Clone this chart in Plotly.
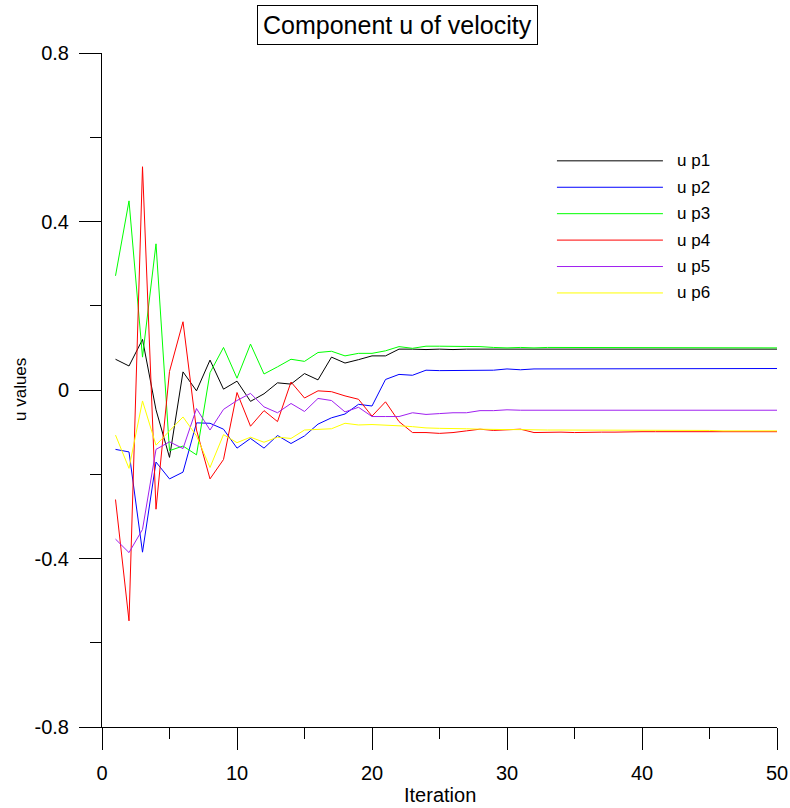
import plotly.graph_objects as go

iterations = list(range(1, 51))
series_names = ["u p1", "u p2", "u p3", "u p4", "u p5", "u p6"]
series_colors = ["#000000", "#0000ff", "#00ff00", "#ff0000", "#a020f0", "#ffff00"]

u_p1 = [0.073, 0.057, 0.120, -0.047, -0.160, 0.043, -0.002, 0.071, 0.002, 0.021,
        -0.027, -0.009, 0.017, 0.014, 0.039, 0.024, 0.078, 0.064, 0.072, 0.081,
        0.081, 0.097, 0.097, 0.096, 0.097, 0.096, 0.097, 0.097, 0.096, 0.097,
        0.097, 0.097, 0.097, 0.096, 0.097, 0.097, 0.097, 0.097, 0.097, 0.097,
        0.097, 0.097, 0.097, 0.097, 0.097, 0.097, 0.097, 0.097, 0.097, 0.097]
u_p2 = [-0.141, -0.147, -0.385, -0.171, -0.211, -0.195, -0.078, -0.079, -0.093, -0.138,
        -0.115, -0.138, -0.108, -0.127, -0.109, -0.081, -0.066, -0.057, -0.034, -0.038,
        0.025, 0.037, 0.035, 0.047, 0.046, 0.046, 0.046, 0.046, 0.047, 0.050,
        0.048, 0.050, 0.050, 0.050, 0.050, 0.050, 0.051, 0.051, 0.051, 0.051,
        0.051, 0.051, 0.051, 0.051, 0.051, 0.051, 0.051, 0.051, 0.051, 0.051]
u_p3 = [0.271, 0.449, 0.078, 0.347, -0.144, -0.133, -0.154, 0.041, 0.101, 0.028,
        0.109, 0.038, 0.055, 0.073, 0.068, 0.089, 0.092, 0.081, 0.087, 0.087,
        0.093, 0.103, 0.099, 0.104, 0.104, 0.104, 0.104, 0.103, 0.101, 0.100,
        0.101, 0.100, 0.101, 0.101, 0.100, 0.100, 0.100, 0.100, 0.100, 0.100,
        0.100, 0.100, 0.100, 0.100, 0.100, 0.100, 0.100, 0.100, 0.100, 0.100]
u_p4 = [-0.260, -0.548, 0.530, -0.283, 0.044, 0.162, -0.095, -0.211, -0.165, -0.006,
        -0.086, -0.049, -0.075, 0.019, -0.019, -0.002, -0.004, -0.014, -0.022, -0.062,
        -0.028, -0.075, -0.101, -0.101, -0.103, -0.101, -0.097, -0.093, -0.096, -0.094,
        -0.093, -0.101, -0.100, -0.100, -0.101, -0.100, -0.100, -0.100, -0.099, -0.099,
        -0.099, -0.099, -0.099, -0.099, -0.099, -0.099, -0.099, -0.099, -0.099, -0.099]
u_p5 = [-0.354, -0.386, -0.331, -0.141, -0.123, -0.139, -0.044, -0.095, -0.046, -0.025,
        -0.008, -0.040, -0.054, -0.032, -0.051, -0.020, -0.025, -0.052, -0.041, -0.063,
        -0.063, -0.063, -0.054, -0.058, -0.056, -0.054, -0.054, -0.049, -0.049, -0.047,
        -0.048, -0.048, -0.048, -0.048, -0.048, -0.048, -0.048, -0.048, -0.048, -0.048,
        -0.048, -0.048, -0.048, -0.048, -0.048, -0.048, -0.048, -0.048, -0.048, -0.048]
u_p6 = [-0.107, -0.186, -0.026, -0.131, -0.097, -0.064, -0.109, -0.184, -0.106, -0.125,
        -0.112, -0.124, -0.112, -0.115, -0.095, -0.093, -0.092, -0.079, -0.083, -0.082,
        -0.083, -0.085, -0.087, -0.090, -0.091, -0.091, -0.092, -0.093, -0.094, -0.094,
        -0.094, -0.095, -0.095, -0.095, -0.095, -0.095, -0.095, -0.096, -0.096, -0.096,
        -0.096, -0.096, -0.096, -0.096, -0.096, -0.097, -0.097, -0.097, -0.097, -0.097]

series_values = [u_p1, u_p2, u_p3, u_p4, u_p5, u_p6]

FONT = "Liberation Sans, Arial, sans-serif"

fig = go.Figure()
for name, color, vals in zip(series_names, series_colors, series_values):
    fig.add_trace(go.Scatter(x=iterations, y=vals, mode="lines", name=name,
                             line=dict(color=color, width=1), showlegend=False))

# custom legend (long line samples)
shapes = []
annotations = []
leg_x0, leg_x1, leg_tx = 0.674, 0.831, 0.849
leg_y0, leg_dy = 0.840, 0.0392
for k, (name, color) in enumerate(zip(series_names, series_colors)):
    yy = leg_y0 - k * leg_dy
    shapes.append(dict(type="line", xref="paper", yref="paper", x0=leg_x0, x1=leg_x1,
                       y0=yy, y1=yy, line=dict(color=color, width=1)))
    annotations.append(dict(xref="paper", yref="paper", x=leg_tx, y=yy, text=name,
                            showarrow=False, xanchor="left", yanchor="middle",
                            font=dict(family=FONT, size=17, color="black")))

# boxed title
annotations.append(dict(xref="paper", yref="paper", x=(397.5 - 102) / 675, y=(727 - 25.5) / 674,
                        text="Component u of velocity", showarrow=False,
                        xanchor="center", yanchor="middle",
                        font=dict(family=FONT, size=25, color="black"),
                        bordercolor="black", borderwidth=1, borderpad=5, bgcolor="white"))
# axis titles
annotations.append(dict(xref="paper", yref="paper", x=0.5, y=(727 - 795) / 674,
                        text="Iteration", showarrow=False, xanchor="center", yanchor="middle",
                        font=dict(family=FONT, size=20, color="black")))
annotations.append(dict(xref="paper", yref="paper", x=(20 - 102) / 675, y=0.5,
                        text="u values", showarrow=False, xanchor="center", yanchor="middle",
                        textangle=-90, font=dict(family=FONT, size=17, color="black")))

fig.update_layout(
    width=790, height=808,
    margin=dict(l=102, r=13, t=53, b=81),
    paper_bgcolor="white", plot_bgcolor="white",
    font=dict(family=FONT, color="black"),
    shapes=shapes, annotations=annotations,
)
fig.update_xaxes(range=[0, 50], tickvals=[0, 10, 20, 30, 40, 50], showgrid=False, zeroline=False,
                 automargin=False,
                 showline=True, linecolor="black", linewidth=1,
                 ticks="outside", ticklen=22, tickcolor="black", tickwidth=1,
                 tickfont=dict(family=FONT, size=20, color="black"), ticklabelstandoff=6,
                 minor=dict(tickvals=[5, 15, 25, 35, 45], ticks="outside", ticklen=11,
                            tickcolor="black", tickwidth=1, showgrid=False))
fig.update_yaxes(range=[-0.8, 0.8], tickvals=[-0.8, -0.4, 0, 0.4, 0.8],
                 ticktext=["-0.8", "-0.4", "0", "0.4", "0.8"], showgrid=False, zeroline=False,
                 automargin=False,
                 showline=True, linecolor="black", linewidth=1,
                 ticks="outside", ticklen=22, tickcolor="black", tickwidth=1,
                 tickfont=dict(family=FONT, size=20, color="black"), ticklabelstandoff=6,
                 minor=dict(tickvals=[-0.6, -0.2, 0.2, 0.6], ticks="outside", ticklen=11,
                            tickcolor="black", tickwidth=1, showgrid=False))

fig.write_html("out.html", config={"displayModeBar": False},
               post_script="document.body.style.margin='0';document.body.style.overflow='hidden';")
